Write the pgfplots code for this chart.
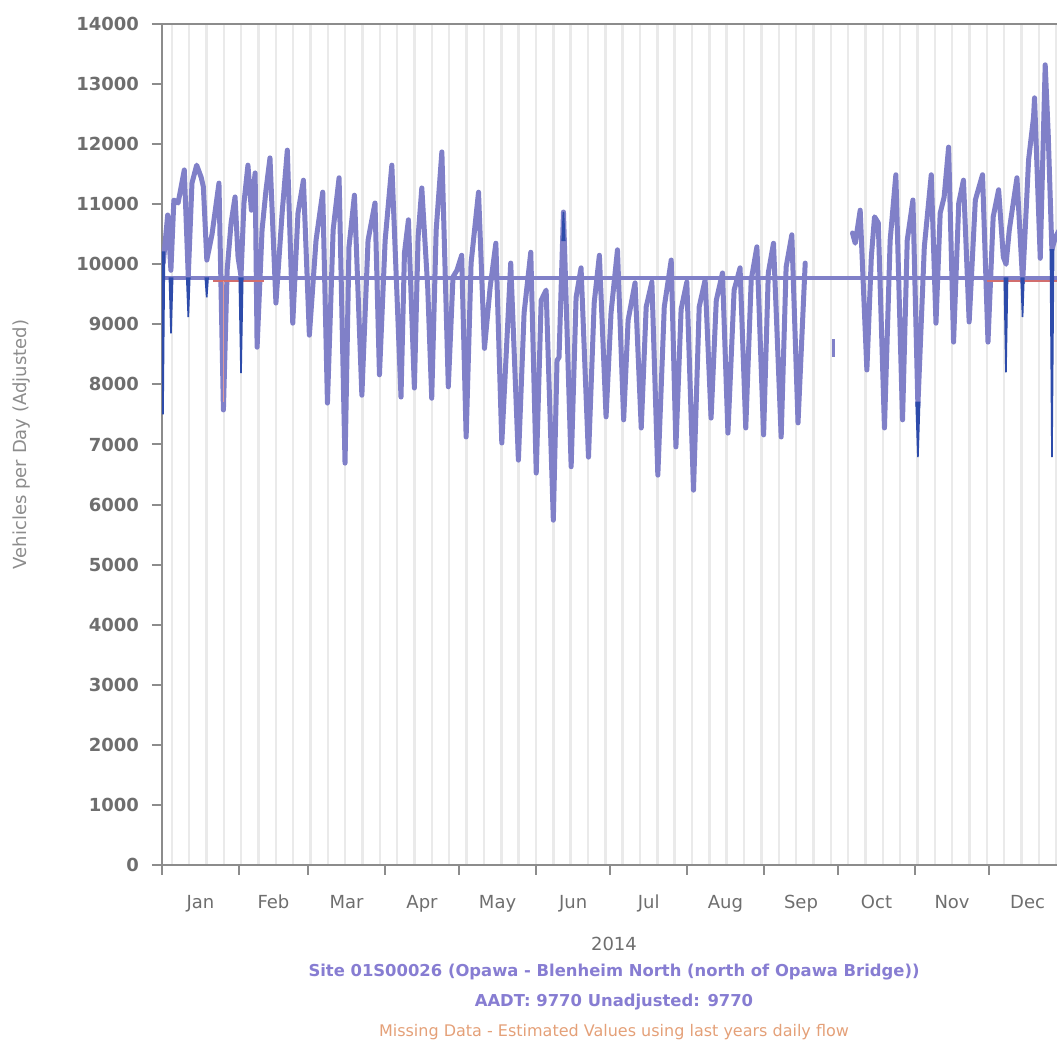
\documentclass[border=0pt]{standalone}
\usepackage{pgfplots}
\usepackage{pgfplotstable}
\pgfplotsset{compat=1.18}
\usepackage{fontspec}
\setmainfont{DejaVu Sans}
\definecolor{vpurple}{RGB}{128,128,200}
\definecolor{dblue}{RGB}{45,75,170}
\definecolor{redl}{RGB}{210,110,110}
\definecolor{axgray}{RGB}{140,140,140}
\definecolor{tkgray}{RGB}{110,110,110}
\definecolor{gridg}{RGB}{234,234,234}
\definecolor{sitec}{RGB}{135,125,210}
\definecolor{missc}{RGB}{228,160,120}

\pgfplotstableread{
day veh
0.5 10020
2.3 10820
3.6 9900
4.8 11070
6.5 11020
9.0 11570
10.6 9800
12.1 11350
14.0 11650
15.8 11450
16.7 11290
18.1 10070
20.2 10500
23.0 11350
24.8 7575
26.3 9900
27.9 10690
29.5 11120
30.7 10120
31.9 9800
33.1 11020
34.7 11650
36.1 10900
37.6 11520
38.4 8620
40.4 10570
42.0 11240
43.6 11770
46.0 9355
48.5 10850
50.6 11900
52.8 9020
54.9 10850
57.1 11400
59.5 8820
62.2 10400
64.9 11200
66.8 7690
69.1 10570
71.5 11440
73.9 6690
75.5 10290
77.7 11150
80.7 7820
83.2 10400
86.0 11020
87.8 8160
90.1 10400
92.8 11650
96.5 7790
97.9 10190
99.5 10740
101.9 7940
103.4 10450
104.9 11270
107.3 9600
108.9 7770
110.7 10570
113.0 11870
115.6 7960
117.5 9790
119.1 9900
121.0 10150
122.8 7125
124.8 10020
127.8 11200
130.2 8600
132.5 9620
134.8 10350
137.2 7025
140.8 10020
143.9 6740
146.2 9190
148.9 10200
151.1 6525
153.1 9400
155.1 9570
158.0 5740
159.5 8400
160.3 8450
162.1 10870
165.2 6630
167.2 9450
169.2 9940
172.2 6790
174.5 9355
176.6 10150
179.3 7460
181.3 9190
183.9 10240
186.4 7410
188.2 9070
191.0 9690
193.5 7275
195.5 9290
197.8 9705
200.2 6490
202.8 9290
205.6 10070
207.5 6960
209.6 9250
211.9 9705
214.6 6240
216.9 9290
219.3 9740
221.7 7440
223.8 9400
226.3 9855
228.5 7190
231.0 9570
233.4 9940
235.7 7275
237.9 9740
240.2 10290
242.9 7160
244.8 9855
246.9 10350
250.0 7125
252.0 9955
254.3 10490
256.8 7360
259.7 10020
}\segA

\pgfplotstableread{
day veh
278.8 10520
279.9 10350
281.9 10900
284.6 8240
286.4 10120
287.7 10790
289.2 10690
291.7 7275
294.0 10400
296.3 11490
299.0 7410
300.9 10400
303.2 11070
305.2 7650
307.8 10290
310.6 11490
312.5 9020
314.2 10850
315.8 11120
317.6 11950
319.6 8705
321.7 11020
323.6 11400
325.9 9040
328.4 11070
331.3 11490
333.5 8705
335.6 10790
337.8 11240
339.7 10120
340.8 10000
342.1 10570
343.7 11020
345.2 11440
347.5 9700
349.9 11740
351.9 12450
352.3 12770
354.6 10100
356.6 13320
357.8 12190
359.3 10240
360.7 10450
362.7 10600
}\segB

\begin{document}
\begin{tikzpicture}
\begin{axis}[
  at={(0,0)}, anchor=south west,
  scale only axis, width=452pt, height=420.5pt,
  xmin=0, xmax=365, ymin=0, ymax=14000,
  axis line style={axgray, line width=1.2pt},
  tick style={axgray, line width=1pt},
  tick align=outside, major tick length=5pt,
  xtick pos=bottom, ytick pos=left,
  xtick={0,31,59,90,120,151,181,212,243,273,304,334},
  xticklabels={},
  minor xtick={4,11,...,361},
  minor tick length=0pt,
  xminorgrids=true,
  minor grid style={gridg, line width=1.2pt},
  extra x ticks={15.5,45,74.5,105,135.5,166,196.5,227.5,258,288.5,319,349.5},
  extra x tick labels={Jan,Feb,Mar,Apr,May,Jun,Jul,Aug,Sep,Oct,Nov,Dec},
  extra x tick style={major tick length=0pt},
  xticklabel style={font=\fontsize{9}{10}\selectfont, text=tkgray, yshift=-11.5pt},
  ytick={0,1000,...,14000},
  scaled y ticks=false,
  yticklabel style={font=\bfseries\fontsize{9}{10}\selectfont, text=tkgray, xshift=-3pt},
  /pgf/number format/assume math mode=true,
  /pgf/number format/1000 sep={},
]
\addplot[vpurple, line width=2.5pt, line join=round, line cap=round] table[x=day,y=veh] {\segA};
\addplot[vpurple, line width=2.5pt, line join=round, line cap=round] table[x=day,y=veh] {\segB};
\addplot[vpurple, line width=1.6pt] coordinates {(271.1,8750) (271.1,8450)};
\addplot[vpurple, line width=1.6pt] coordinates {(0,9770) (365,9770)};
\addplot[redl, line width=0.7pt] coordinates {(20.5,9720) (41,9720)};
\addplot[redl, line width=0.7pt] coordinates {(333,9720) (365,9720)};
\addplot[redl!70, line width=0.6pt] coordinates {(24.8,9720) (24.8,7700)};
% estimated values (dark blue)
\addplot[dblue, fill=dblue, line width=0.8pt] coordinates {(0,10200) (1.0,10200) (0.4,7500)} --cycle;
\addplot[dblue, fill=dblue, line width=0.8pt] coordinates {(3.0,9770) (4.3,9770) (3.63,8850)} --cycle;
\addplot[dblue, fill=dblue, line width=0.8pt] coordinates {(10.0,9770) (11.2,9770) (10.62,9120)} --cycle;
\addplot[dblue, fill=dblue, line width=0.8pt] coordinates {(17.5,9770) (18.6,9770) (18.05,9450)} --cycle;
\addplot[dblue, fill=dblue, line width=0.8pt] coordinates {(31.2,9770) (32.6,9770) (31.91,8190)} --cycle;
\addplot[dblue, fill=dblue, line width=0.8pt] coordinates {(161.6,10400) (162.6,10400) (162.08,10870)} --cycle;
\addplot[dblue, fill=dblue, line width=0.8pt] coordinates {(304.5,7700) (305.9,7700) (305.21,6790)} --cycle;
\addplot[dblue, fill=dblue, line width=0.8pt] coordinates {(340.1,9770) (341.4,9770) (340.75,8200)} --cycle;
\addplot[dblue, fill=dblue, line width=0.8pt] coordinates {(346.9,9770) (348.0,9770) (347.46,9120)} --cycle;
\addplot[dblue, fill=dblue, line width=0.8pt] coordinates {(358.7,10240) (360.0,10240) (359.33,6790)} --cycle;
\end{axis}
\node[rotate=90, text=axgray, font=\fontsize{9}{10}\selectfont] at (-70pt,210.25pt) {Vehicles per Day (Adjusted)};
\node[text=tkgray, font=\fontsize{9}{10}\selectfont] at (226pt,-39.5pt) {2014};
\node[text=sitec, font=\bfseries\fontsize{8.2}{9}\selectfont] at (226pt,-53.5pt) {Site 01S00026 (Opawa - Blenheim North (north of Opawa Bridge))};
\node[text=sitec, font=\bfseries\fontsize{8.2}{9}\selectfont] at (226pt,-68.5pt) {AADT: 9770 Unadjusted: 9770};
\node[text=missc, font=\fontsize{8}{9}\selectfont] at (226pt,-83.5pt) {Missing Data - Estimated Values using last years daily flow};
\pgfresetboundingbox
\path[use as bounding box] (-81pt,-89pt) rectangle (447.5pt,432.5pt);
\end{tikzpicture}
\end{document}
